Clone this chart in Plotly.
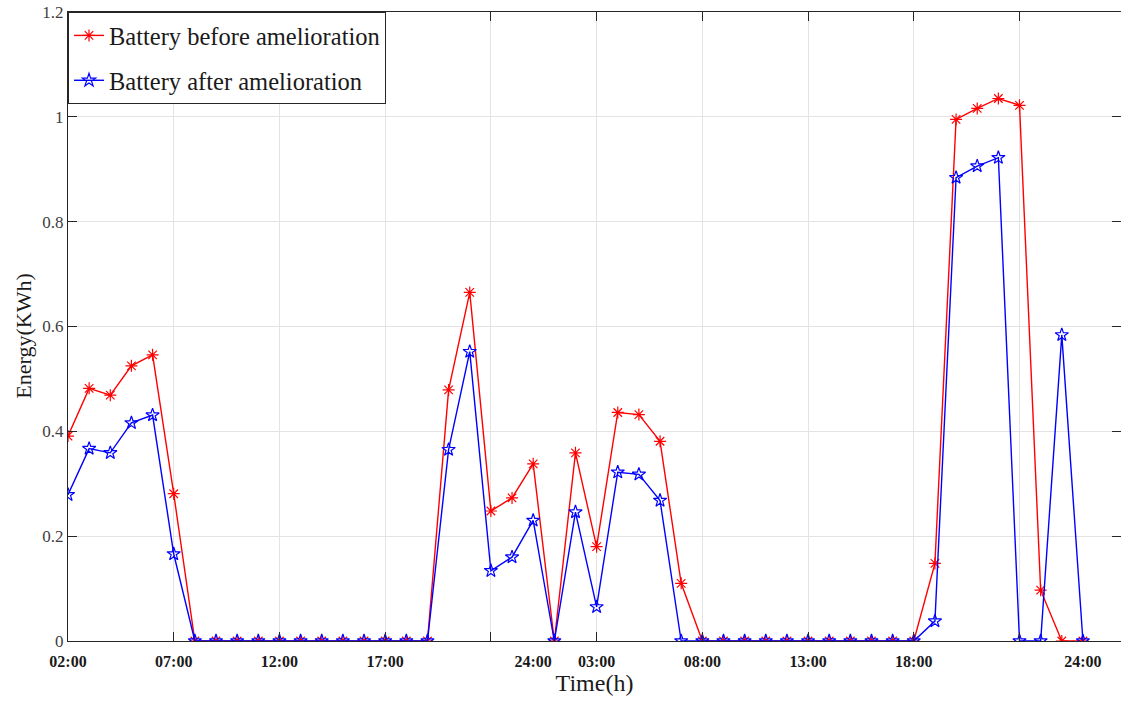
import plotly.graph_objects as go

# Hourly battery energy over two days (hour index 0 = 02:00 of day one)
hours = list(range(49))
before = [0.391, 0.482, 0.469, 0.525, 0.546, 0.281,
          0, 0, 0, 0, 0, 0, 0, 0, 0, 0, 0, 0,
          0.479, 0.665, 0.248, 0.273, 0.338, 0, 0.359, 0.180,
          0.436, 0.432, 0.381, 0.110,
          0, 0, 0, 0, 0, 0, 0, 0, 0, 0, 0,
          0.148, 0.995, 1.016, 1.035, 1.022, 0.097, 0, 0]
after = [0.279, 0.367, 0.359, 0.416, 0.431, 0.166,
         0, 0, 0, 0, 0, 0, 0, 0, 0, 0, 0, 0,
         0.365, 0.552, 0.134, 0.160, 0.230, 0, 0.246, 0.065,
         0.322, 0.318, 0.268, 0,
         0, 0, 0, 0, 0, 0, 0, 0, 0, 0, 0,
         0.038, 0.884, 0.906, 0.922, 0, 0, 0.584, 0]

grid_hours = [0, 5, 10, 15, 20, 25, 30, 35, 40, 45]
label_hours = [0, 5, 10, 15, 22, 25, 30, 35, 40, 48]
label_text = ["02:00", "07:00", "12:00", "17:00", "24:00",
              "03:00", "08:00", "13:00", "18:00", "24:00"]

serif = "Liberation Serif, Times New Roman, serif"
axis_col = "#262626"
x_range = [0, 49.8]

fig = go.Figure()
fig.add_trace(go.Scatter(
    x=hours, y=before, mode="lines+markers",
    name="Battery before amelioration", legendgroup="a",
    line=dict(color="#ff0000", width=1.4),
    marker=dict(symbol="asterisk-open", size=10,
                line=dict(color="#ff0000", width=1.2)),
))
# second series sits on the labelled overlay axis (same range as the grid axis)
fig.add_trace(go.Scatter(
    x=hours, y=after, mode="lines+markers", xaxis="x2",
    name="Battery after amelioration", legendgroup="b",
    line=dict(color="#0000ff", width=1.4),
    marker=dict(symbol="star-open", size=10, color="#0000ff",
                line=dict(color="#0000ff", width=1.2)),
))

fig.update_layout(
    width=1121, height=702,
    margin=dict(l=68, r=0, t=12, b=61),
    paper_bgcolor="white", plot_bgcolor="white",
    font=dict(family=serif, color=axis_col),
    showlegend=True,
    legend=dict(
        x=0, y=1, xanchor="left", yanchor="top",
        bgcolor="white", bordercolor=axis_col, borderwidth=1,
        font=dict(family=serif, size=24.5, color="#1a1a1a"),
        tracegroupgap=10, traceorder="grouped",
    ),
    xaxis=dict(
        range=x_range, tickmode="array", tickvals=grid_hours,
        showticklabels=False, ticks="inside", ticklen=9,
        tickcolor=axis_col, showline=True, linecolor=axis_col,
        linewidth=1, mirror="ticks", showgrid=True,
        gridcolor="#e3e3e3", gridwidth=1, zeroline=False,
    ),
    xaxis2=dict(
        overlaying="x", anchor="y", side="bottom",
        range=x_range, tickmode="array", tickvals=label_hours,
        ticktext=label_text, ticks="", showgrid=False,
        showline=False, zeroline=False, ticklabelstandoff=9,
        tickfont=dict(family=serif, size=16, color="#1a1a1a",
                      weight="bold"),
        title=dict(text="Time(h)", font=dict(family=serif, size=24,
                                             color="#1a1a1a"),
                   standoff=3),
    ),
    yaxis=dict(
        range=[0, 1.2], tickmode="linear", tick0=0, dtick=0.2,
        ticks="inside", ticklen=9, tickcolor=axis_col,
        showline=True, linecolor=axis_col, linewidth=1,
        mirror="ticks", showgrid=True, gridcolor="#e3e3e3",
        zeroline=False,
        tickfont=dict(family=serif, size=17, color="#404040"),
    ),
    annotations=[dict(
        text="Energy(KWh)", textangle=-90, showarrow=False,
        xref="paper", yref="paper", x=-0.042, y=0.485,
        xanchor="center", yanchor="middle",
        font=dict(family=serif, size=22, color="#1a1a1a"),
    )],
)

fig.write_html("out.html")
